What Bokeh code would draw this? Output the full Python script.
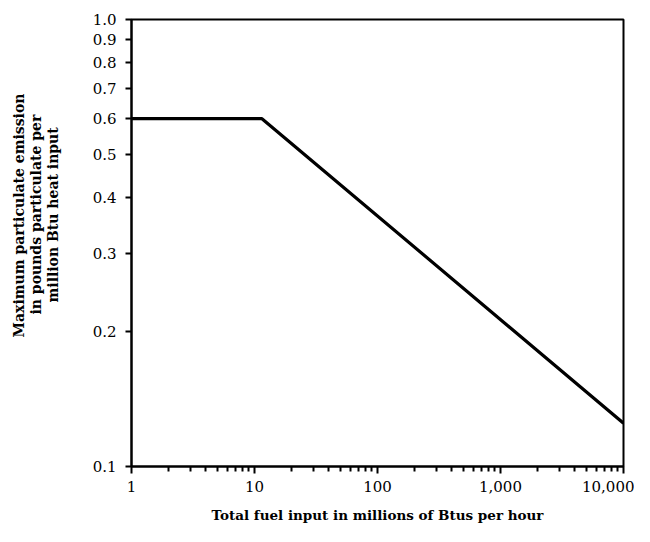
from bokeh.plotting import figure
from bokeh.models import FixedTicker, Range1d, Title
from bokeh.embed import file_html
from bokeh.resources import INLINE

# Data
fuel_input = [1, 11.5, 10000]          # millions of Btu per hour
max_emission = [0.6, 0.6, 0.125]       # lb particulate per million Btu

x_major = [1, 10, 100, 1000, 10000]
x_minor = [m * d for d in [1, 10, 100, 1000] for m in range(2, 10)]
x_labels = {1: "1", 10: "10", 100: "100", 1000: "1,000", 10000: "10,000"}

y_ticks = [0.1, 0.2, 0.3, 0.4, 0.5, 0.6, 0.7, 0.8, 0.9, 1.0]
y_labels = {0.1: "0.1", 0.2: "0.2", 0.3: "0.3", 0.4: "0.4", 0.5: "0.5",
            0.6: "0.6", 0.7: "0.7", 0.8: "0.8", 0.9: "0.9", 1.0: "1.0"}

y_title_lines = ["Maximum particulate emission",
                 "in pounds particulate per",
                 "million Btu heat input"]
x_title = "Total fuel input in millions of Btus per hour"

W, H = 634, 526
LEFT, TOP, RIGHT, BOTTOM = 131, 19, 11, 60
p = figure(width=W, height=H, x_axis_type="log", y_axis_type="log",
           x_range=Range1d(1, 10000), y_range=Range1d(0.1, 1.0),
           output_backend="svg", toolbar_location=None,
           min_border_left=LEFT, min_border_right=RIGHT,
           min_border_top=TOP, min_border_bottom=BOTTOM)

p.line(fuel_input, max_emission, line_color="black", line_width=3.2)

p.grid.visible = False
p.outline_line_color = "black"
p.outline_line_width = 2
p.background_fill_color = "white"
p.border_fill_color = "white"

serif = "DejaVu Serif"

xa = p.xaxis[0]
xa.ticker = FixedTicker(ticks=x_major, minor_ticks=x_minor)
xa.major_label_overrides = x_labels
xa.axis_line_width = 2
xa.axis_line_color = "black"
xa.major_tick_line_width = 2
xa.minor_tick_line_width = 2
xa.major_tick_in = 0
xa.major_tick_out = 7
xa.minor_tick_in = 0
xa.minor_tick_out = 5
xa.major_label_text_font = serif
xa.major_label_text_font_size = "15px"
xa.major_label_text_color = "black"
xa.major_label_standoff = 7
xa.axis_label = x_title
xa.axis_label_text_font = serif
xa.axis_label_text_font_style = "bold"
xa.axis_label_text_font_size = "13.5px"
xa.axis_label_text_color = "black"
xa.axis_label_standoff = 12

ya = p.yaxis[0]
ya.ticker = FixedTicker(ticks=y_ticks, minor_ticks=[])
ya.major_label_overrides = y_labels
ya.axis_line_width = 2
ya.axis_line_color = "black"
ya.major_tick_line_width = 2
ya.major_tick_in = 0
ya.major_tick_out = 6
ya.minor_tick_in = 0
ya.minor_tick_out = 0
ya.major_label_text_font = serif
ya.major_label_text_font_size = "15px"
ya.major_label_text_color = "black"
ya.major_label_standoff = 9

# blank spacer panel between the tick labels and the y title
p.add_layout(Title(text=" ", standoff=25, text_font_size="1px",
                   text_color="white"), "left")

# y title: three centred lines, offsets measured from the frame bottom
offsets = [129, 152, 164]
for line, off in reversed(list(zip(y_title_lines, offsets))):
    p.add_layout(Title(text=line, align="left", offset=off, standoff=-1,
                       vertical_align="middle",
                       text_font=serif, text_font_style="bold",
                       text_font_size="14px", text_color="black"), "left")

open("out.html", "w").write(file_html(p, INLINE))
